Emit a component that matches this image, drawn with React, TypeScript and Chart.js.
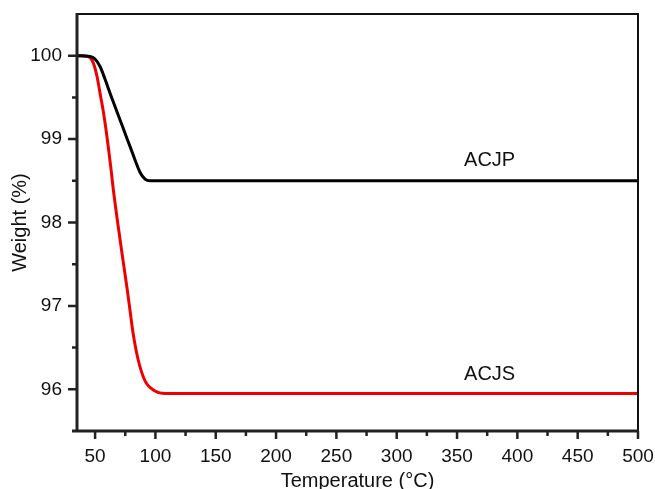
import React, { useEffect, useRef } from "react";
import { Chart, registerables } from "chart.js";

Chart.register(...registerables);

// ---- Data ----
const acjpTemp = [35, 45.8, 49.9, 54.1, 58.2, 62.4, 66.5, 70.7, 74.8, 79.0, 83.1, 87.3, 91.4, 95.5, 150, 300, 500];
const acjpWeight = [100, 99.99, 99.96, 99.87, 99.72, 99.55, 99.39, 99.23, 99.07, 98.91, 98.75, 98.6, 98.52, 98.5, 98.5, 98.5, 98.5];

const acjsTemp = [35, 44.1, 48.3, 51.6, 54.1, 56.6, 59.1, 61.5, 63.2, 64.9, 69.0, 73.2, 76.5, 79.0, 81.4, 85.6, 91.4, 99.7, 108, 200, 350, 500];
const acjsWeight = [100, 99.99, 99.92, 99.75, 99.55, 99.35, 99.11, 98.84, 98.64, 98.42, 97.97, 97.54, 97.21, 96.94, 96.68, 96.36, 96.1, 95.98, 95.95, 95.95, 95.95, 95.95];

const xTickValues = [50, 100, 150, 200, 250, 300, 350, 400, 450, 500];
const xMinorValues = [75, 125, 175, 225, 275, 325, 375, 425, 475];
const yTickValues = [96, 97, 98, 99, 100];
const yMinorValues = [96.5, 97.5, 98.5, 99.5];

const seriesLabels = ["ACJP", "ACJS"];
const labelAnchors = [
  { x: 377, y: 98.74 },
  { x: 377, y: 96.18 },
];

const FONT = "'Liberation Sans', Arial, Helvetica, sans-serif";

const framePlugin = {
  id: "frame",
  afterDraw(chart: any) {
    const { ctx, chartArea, scales } = chart;
    const { left, right, top, bottom } = chartArea;
    const xs = scales.x;
    const ys = scales.y;
    ctx.save();
    ctx.strokeStyle = "#111";
    ctx.lineWidth = 2;
    ctx.beginPath();
    ctx.moveTo(left, top);
    ctx.lineTo(right, top);
    ctx.lineTo(right, bottom);
    ctx.stroke();
    ctx.strokeStyle = "#222";
    ctx.lineWidth = 3;
    ctx.beginPath();
    ctx.moveTo(left, top - 1);
    ctx.lineTo(left, bottom);
    ctx.stroke();
    ctx.beginPath();
    ctx.moveTo(left - 5, bottom);
    ctx.lineTo(right + 1, bottom);
    ctx.stroke();
    ctx.lineWidth = 2.5;
    ctx.beginPath();
    xTickValues.forEach((v) => {
      const p = xs.getPixelForValue(v);
      ctx.moveTo(p, bottom);
      ctx.lineTo(p, bottom + 8);
    });
    xMinorValues.forEach((v) => {
      const p = xs.getPixelForValue(v);
      ctx.moveTo(p, bottom);
      ctx.lineTo(p, bottom + 5);
    });
    yTickValues.forEach((v) => {
      const p = ys.getPixelForValue(v);
      ctx.moveTo(left, p);
      ctx.lineTo(left - 9, p);
    });
    yMinorValues.forEach((v) => {
      const p = ys.getPixelForValue(v);
      ctx.moveTo(left, p);
      ctx.lineTo(left - 5, p);
    });
    ctx.stroke();
    ctx.fillStyle = "#111";
    ctx.font = `20px ${FONT}`;
    ctx.textAlign = "center";
    ctx.textBaseline = "middle";
    seriesLabels.forEach((t, i) => {
      ctx.fillText(t, xs.getPixelForValue(labelAnchors[i].x), ys.getPixelForValue(labelAnchors[i].y));
    });
    ctx.restore();
  },
};

export default function App() {
  const ref = useRef<HTMLCanvasElement>(null);
  useEffect(() => {
    if (!ref.current) return;
    const chart = new Chart(ref.current, {
      type: "line",
      data: {
        datasets: [
          {
            label: seriesLabels[0],
            data: acjpTemp.map((t, i) => ({ x: t, y: acjpWeight[i] })),
            borderColor: "#000000",
            borderWidth: 3,
            pointRadius: 0,
            cubicInterpolationMode: "monotone",
            fill: false,
          },
          {
            label: seriesLabels[1],
            data: acjsTemp.map((t, i) => ({ x: t, y: acjsWeight[i] })),
            borderColor: "#ee0000",
            borderWidth: 3,
            pointRadius: 0,
            cubicInterpolationMode: "monotone",
            fill: false,
          },
        ],
      },
      options: {
        responsive: false,
        animation: false,
        layout: { padding: { top: 14, right: 17, left: 0, bottom: 0 } },
        plugins: { legend: { display: false }, tooltip: { enabled: false } },
        scales: {
          x: {
            type: "linear",
            min: 35,
            max: 500,
            afterFit: (s: any) => {
              s.height = 58;
              s.paddingLeft = 0;
              s.paddingRight = 0;
            },
            afterBuildTicks: (s: any) => {
              s.ticks = xTickValues.map((v) => ({ value: v }));
            },
            grid: { display: false, drawTicks: false },
            border: { display: false },
            ticks: {
              padding: 14,
              color: "#111",
              font: { family: FONT, size: 19 },
              maxRotation: 0,
              autoSkip: false,
            },
            title: {
              display: true,
              text: "Temperature (°C)",
              color: "#111",
              font: { family: FONT, size: 20, lineHeight: 1 },
              padding: { top: 0, bottom: -2 },
            },
          },
          y: {
            type: "linear",
            min: 95.5,
            max: 100.5,
            afterFit: (s: any) => {
              s.width = 77;
              s.paddingTop = 0;
              s.paddingBottom = 0;
            },
            afterBuildTicks: (s: any) => {
              s.ticks = yTickValues.map((v) => ({ value: v }));
            },
            grid: { display: false, drawTicks: false },
            border: { display: false },
            ticks: {
              padding: 15,
              color: "#111",
              font: { family: FONT, size: 19 },
              autoSkip: false,
            },
            title: {
              display: true,
              text: "Weight (%)",
              color: "#111",
              font: { family: FONT, size: 20, lineHeight: 1 },
              padding: { top: 10, bottom: 0 },
            },
          },
        },
      },
      plugins: [framePlugin],
    });
    return () => chart.destroy();
  }, []);
  return (
    <div style={{ position: "absolute", left: 0, top: 0, width: 655, height: 489, background: "#fff" }}>
      <canvas ref={ref} width={655} height={489} />
    </div>
  );
}
